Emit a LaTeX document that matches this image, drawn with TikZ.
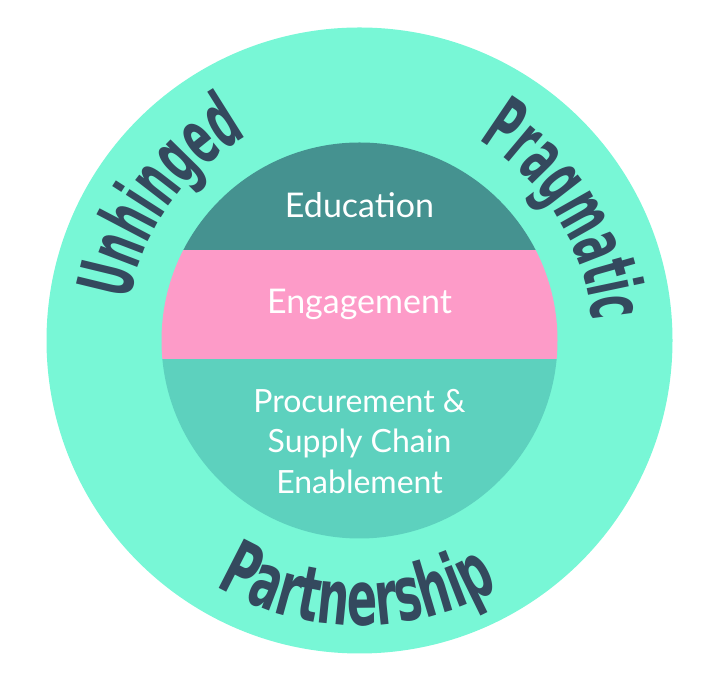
\documentclass[tikz,border=0pt]{standalone}
\usepackage{fontspec}
\setmainfont{Lato}
\newfontfamily\arcfont[FakeStretch=0.51]{DejaVu Sans Bold}
\newfontfamily\widearcfont[FakeStretch=0.59]{DejaVu Sans Bold}
\usetikzlibrary{calc,decorations.text}
\definecolor{mint}{HTML}{78F7D6}
\definecolor{deepteal}{HTML}{459290}
\definecolor{rosepink}{HTML}{FD9BC8}
\definecolor{midteal}{HTML}{5DD1BE}
\definecolor{slate}{HTML}{34495E}

\begin{document}
\begin{tikzpicture}[x=1pt,y=1pt,
    band/.style={text=white, inner sep=0pt, font=\fontsize{34}{40}\selectfont},
    arcword/.style={decorate, decoration={text along path, text align=center, text color=slate, text={#1}}}]
    \useasboundingbox (0,0) rectangle (712,684);
    \coordinate (c) at (359.5,343.5);

    \fill[mint] (c) circle (313);
    \begin{scope}
      \clip (c) circle (198);
      \fill[midteal] (150,120) rectangle (570,325);
      \fill[rosepink] (150,325) rectangle (570,434);
      \fill[deepteal] (150,434) rectangle (570,560);
    \end{scope}

    \node[band, anchor=base] (edu) at (359.5,466.7) {Education};
    \node[band, anchor=base] (eng) at (359.5,370) {Engagement};
    \node[band, align=center, font=\fontsize{32}{40.5}\selectfont] (proc) at (359.5,242.5) {Procurement \&\\Supply Chain\\Enablement};

    \path[arcword={|\arcfont\fontsize{76}{76}\selectfont|Unhinged}] ($(c)+(184.5:233)$) arc[start angle=184.5, end angle=104.5, radius=233];
    \path[arcword={|\arcfont\fontsize{76}{76}\selectfont|Pragmatic}] ($(c)+(72:233)$) arc[start angle=72, end angle=-8, radius=233];
    \path[arcword={|\widearcfont\fontsize{76}{76}\selectfont|Partnership}] ($(c)+(-131:285)$) arc[start angle=-131, end angle=-50, radius=285];
  \end{tikzpicture}
\end{document}
